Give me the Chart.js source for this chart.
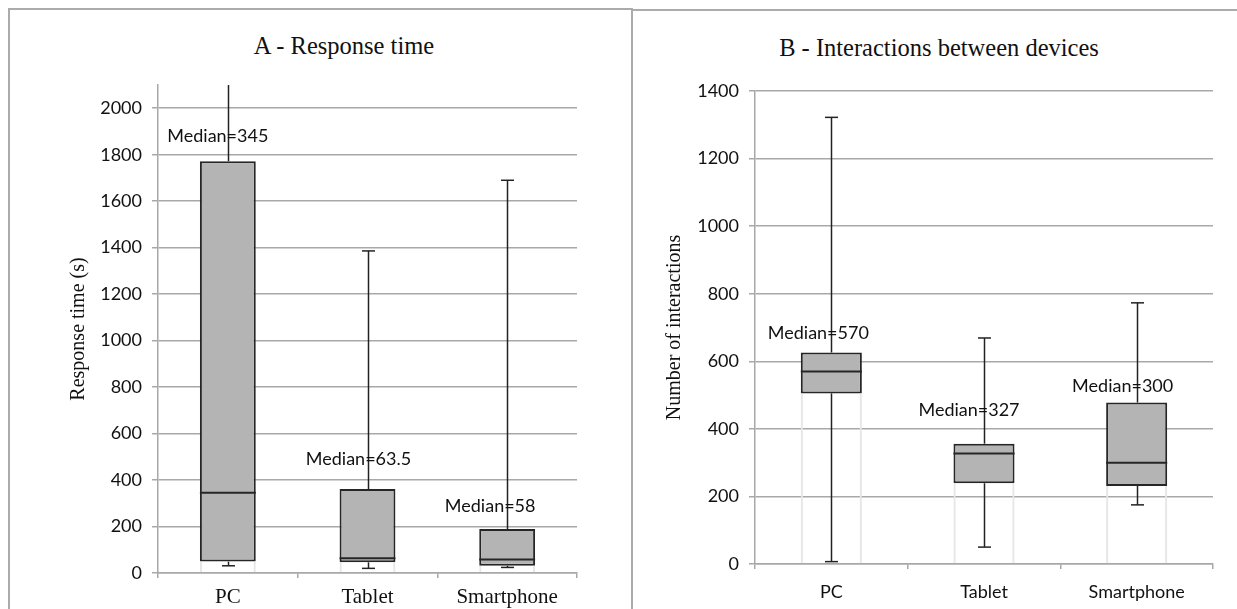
<!DOCTYPE html>
<html>
<head>
<meta charset="utf-8">
<script src="https://cdn.jsdelivr.net/npm/chart.js@4/dist/chart.umd.min.js"></script>
<style>
  html, body { margin: 0; padding: 0; background: #fff; width: 1237px; height: 609px; overflow: hidden; }
  .panel { position: absolute; box-sizing: border-box; border-color: #ababab; border-style: solid; }
  #panelA { left: 8px; top: 8px; width: 625px; height: 640px; border-width: 2px 2px 0 2px; }
  #panelB { left: 631px; top: 9px; width: 640px; height: 640px; border-width: 2px 0 0 2px; }
  .title { position: absolute; font-family: "Liberation Serif", serif; font-size: 24.5px; color: #111; text-align: center; white-space: nowrap; line-height: 28px; }
  #titleA { left: 144px; width: 400px; top: 32px; }
  #titleB { left: 739px; width: 400px; top: 34px; }
  .box { position: absolute; }
  #wrapA { left: 9px; top: 60px; width: 622px; height: 560px; }
  #wrapB { left: 633px; top: 60px; width: 604px; height: 560px; }
</style>
</head>
<body>
<div class="panel" id="panelA"></div>
<div class="panel" id="panelB"></div>
<div class="title" id="titleA">A - Response time</div>
<div class="title" id="titleB">B - Interactions between devices</div>
<div class="box" id="wrapA"><canvas id="chartA" width="622" height="560"></canvas></div>
<div class="box" id="wrapB"><canvas id="chartB" width="604" height="560"></canvas></div>
<script>
const categories = ['PC', 'Tablet', 'Smartphone'];

// A - response time (s)
const respMin = [31, 20, 24];
const respQ1 = [49, 46, 31];
const respMedian = [345, 63.5, 58];
const respQ3 = [1772, 361, 189];
const respMax = [2400, 1386, 1690]; // PC whisker runs off the top of the axis
const respAxisMax = 2100;

// B - interactions between devices
const interMin = [7, 50, 175];
const interQ1 = [505, 239, 231];
const interMedian = [570, 327, 300];
const interQ3 = [626, 356, 478];
const interMax = [1322, 669, 773];
const interAxisMax = 1400;

const tickStep = 200;

const GRID = '#a8a8a8';
const INK = '#111';

// whiskers, median bars and "Median=" labels, drawn through the chart's own scales
function boxExtras(st, dx, dy) {
  return {
    id: 'boxExtras',
    afterDatasetsDraw(chart) {
      const { ctx, chartArea: ca, scales: { x, y } } = chart;
      const boxes = chart.getDatasetMeta(1).data;
      ctx.save();
      ctx.beginPath();
      ctx.rect(ca.left, ca.top, ca.right - ca.left, ca.bottom - ca.top + 2);
      ctx.clip();
      ctx.strokeStyle = '#222';
      ctx.lineWidth = 1.5;
      st.min.forEach((mn, i) => {
        const cx = Math.round(x.getPixelForValue(i)) + 0.5;
        const seg = (a, b, cap) => {
          ctx.beginPath();
          ctx.moveTo(cx, y.getPixelForValue(a));
          ctx.lineTo(cx, y.getPixelForValue(b));
          ctx.stroke();
          if (cap) {
            const cy = y.getPixelForValue(b);
            ctx.beginPath();
            ctx.moveTo(cx - 6.5, cy);
            ctx.lineTo(cx + 6.5, cy);
            ctx.stroke();
          }
        };
        seg(st.q3[i], st.max[i], st.max[i] <= y.max);
        seg(st.q1[i], mn, true);
      });
      // median bar across each box
      ctx.lineWidth = 2;
      ctx.strokeStyle = '#262626';
      st.median.forEach((m, i) => {
        const b = boxes[i];
        const my = y.getPixelForValue(m);
        ctx.beginPath();
        ctx.moveTo(b.x - b.width / 2, my);
        ctx.lineTo(b.x + b.width / 2, my);
        ctx.stroke();
      });
      ctx.restore();

      ctx.save();
      ctx.font = '18px Lato';
      ctx.fillStyle = INK;
      ctx.textAlign = 'center';
      ctx.textBaseline = 'middle';
      st.median.forEach((m, i) => {
        ctx.fillText('Median=' + m,
          x.getPixelForValue(i) + dx[i],
          y.getPixelForValue(st.q3[i]) - dy[i]);
      });
      ctx.restore();
    }
  };
}

function makeBoxChart(id, st, o) {
  const base = categories.map((c, i) => [0, st.q1[i]]);
  const iqr = categories.map((c, i) => [st.q1[i], st.q3[i]]);
  return new Chart(document.getElementById(id), {
    type: 'bar',
    data: {
      labels: categories,
      datasets: [
        { data: base, backgroundColor: 'rgba(0,0,0,0)', borderColor: '#e6e6e6',
          borderWidth: { left: 2, right: 2, top: 0, bottom: 0 }, borderSkipped: false,
          barPercentage: 0.4, categoryPercentage: 1, grouped: false },
        { data: iqr, backgroundColor: '#b4b4b4', borderColor: '#262626', borderWidth: 2,
          borderSkipped: false, barPercentage: 0.4, categoryPercentage: 1, grouped: false }
      ]
    },
    options: {
      responsive: false,
      animation: false,
      layout: { padding: o.padding },
      plugins: { legend: { display: false }, tooltip: { enabled: false } },
      scales: {
        x: {
          offset: true,
          grid: { drawOnChartArea: false, drawTicks: true, tickLength: 5, offset: true, color: GRID, lineWidth: 1.5 },
          border: { color: GRID, width: 1.5 },
          ticks: { color: INK, font: o.xFont, padding: o.xPad },
          afterFit: s => { s.height = 40; }
        },
        y: {
          min: 0,
          max: o.axisMax,
          ticks: { stepSize: tickStep, color: INK, font: { family: 'Lato', size: 18 }, padding: 10,
                   callback: v => String(v) },
          afterBuildTicks: s => { s.ticks = s.ticks.filter(t => t.value % tickStep === 0); },
          grid: { color: GRID, lineWidth: 1.5, tickLength: 6 },
          border: { color: GRID, width: 1.5 },
          title: { display: true, text: o.yTitle, color: INK,
                   font: { family: 'Liberation Serif', size: 20 }, padding: { top: o.titlePad, bottom: 0 } },
          afterFit: s => { s.width = o.yWidth; }
        }
      }
    },
    plugins: [boxExtras(st, o.labelDx, o.labelDy)]
  });
}

makeBoxChart('chartA',
  { min: respMin, q1: respQ1, median: respMedian, q3: respQ3, max: respMax },
  {
    axisMax: respAxisMax,
    yTitle: 'Response time (s)',
    padding: { left: 40, right: 54, top: 25, bottom: 7 },
    yWidth: 109,
    titlePad: 18,
    xFont: { family: 'Liberation Serif', size: 21 },
    xPad: 7,
    labelDx: [-10, -9, -17],
    labelDy: [25, 30, 23]
  });

makeBoxChart('chartB',
  { min: interMin, q1: interQ1, median: interMedian, q3: interQ3, max: interMax },
  {
    axisMax: interAxisMax,
    yTitle: 'Number of interactions',
    padding: { left: 10, right: 24, top: 31, bottom: 16 },
    yWidth: 112,
    titlePad: 20,
    xFont: { family: 'Lato', size: 18 },
    xPad: 12,
    labelDx: [-13, -15, -14],
    labelDy: [19, 34, 16]
  });
</script>
</body>
</html>
